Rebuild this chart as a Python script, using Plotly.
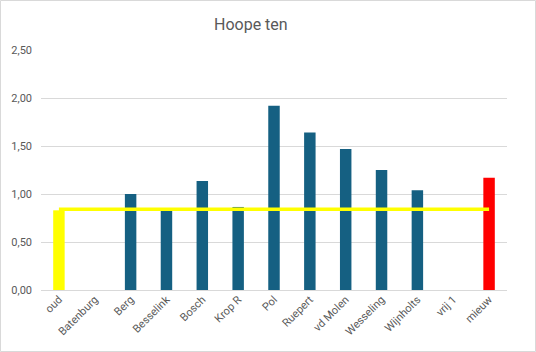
import plotly.graph_objects as go

categories = ["oud", "Batenburg", "Berg", "Besselink", "Bosch", "Krop R", "Pol",
              "Ruepert", "vd Molen", "Wesseling", "Wijnholts", "vrij 1", "mieuw"]
values = [0.83, None, 1.00, 0.83, 1.135, 0.865, 1.92, 1.64, 1.47, 1.25, 1.04, None, 1.17]
bar_colors = ["#FFFF00", "#156082", "#156082", "#156082", "#156082", "#156082", "#156082",
              "#156082", "#156082", "#156082", "#156082", "#156082", "#FF0000"]
reference_line = [0.84] * len(categories)
title_text = "Hoope ten"

W, H = 536, 352
ml, mr, mt, mb = 41, 29, 50, 62

fig = go.Figure()
fig.add_trace(go.Bar(x=categories, y=values, marker=dict(color=bar_colors, line=dict(width=0)),
                     showlegend=False))
fig.add_trace(go.Scatter(x=categories, y=reference_line, mode="lines",
                         line=dict(color="#FFFF00", width=3.5), showlegend=False))

pw = W - ml - mr
ph = H - mt - mb
fig.add_shape(type="rect", xref="paper", yref="paper",
              x0=(-ml + 0.5) / pw, x1=(pw + mr - 0.5) / pw,
              y0=(-mb + 0.5) / ph, y1=(ph + mt - 0.5) / ph,
              line=dict(color="#D9D9D9", width=1), layer="below")

fig.update_layout(
    width=W, height=H,
    margin=dict(l=ml, r=mr, t=mt, b=mb),
    paper_bgcolor="white", plot_bgcolor="white",
    bargap=0.68,
    separators=", ",
    font=dict(family="Roboto, Arial, sans-serif", color="#595959", size=11),
    title=dict(text=title_text, x=0.468, xanchor="center", y=0.93, yanchor="middle",
               font=dict(size=16, color="#595959")),
    xaxis=dict(tickangle=-45, showgrid=False, showline=False, ticks="",
               tickfont=dict(size=11, color="#595959")),
    yaxis=dict(range=[0, 2.5], dtick=0.5, tickformat=".2f", showgrid=True,
               gridcolor="#D9D9D9", gridwidth=1, zeroline=True, zerolinecolor="#D9D9D9",
               zerolinewidth=1, showline=False, ticks="", ticklabelstandoff=8,
               tickfont=dict(size=11, color="#595959")),
)

fig.write_html("out.html")
